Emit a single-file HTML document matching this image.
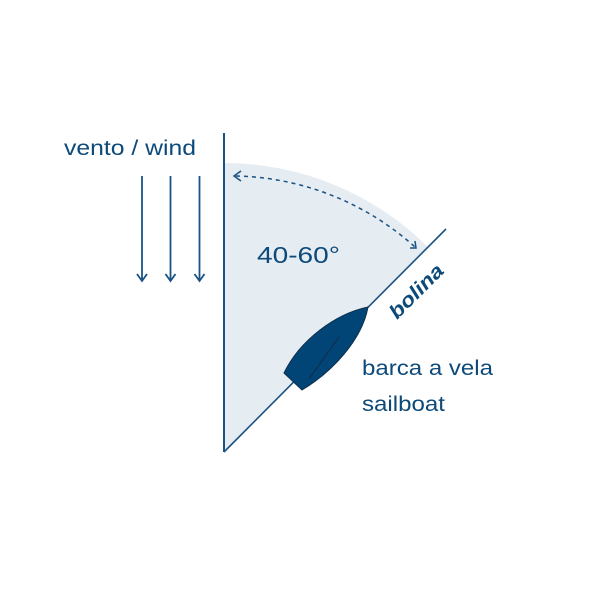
<!DOCTYPE html>
<html><head><style>html,body{margin:0;padding:0;background:#fff;}</style></head>
<body>
<svg width="610" height="610" viewBox="0 0 610 610" xmlns="http://www.w3.org/2000/svg">
<rect width="610" height="610" fill="#fff"/>
<path d="M224 452 L224 163 A289 289 0 0 1 428.4 247.6 Z" fill="#e5ecf2"/>
<line x1="224" y1="133" x2="224" y2="452" stroke="#1a5283" stroke-width="2"/>
<line x1="224" y1="452" x2="446" y2="229" stroke="#1a5283" stroke-width="1.6"/>
<path d="M236 176 A276 276 0 0 1 415 247" fill="none" stroke="#1a5283" stroke-width="1.5" stroke-dasharray="4,4"/>
<path d="M241 171 L234 176 L241 181" fill="none" stroke="#1a5283" stroke-width="1.5"/>
<path d="M410 248 L416 248 L415 241" fill="none" stroke="#1a5283" stroke-width="1.5"/>
<g stroke="#1a5283" stroke-width="1.8" fill="none">
<line x1="142" y1="176" x2="142" y2="281"/><path d="M137 274 L142 281 L147 274"/>
<line x1="170.5" y1="176" x2="170.5" y2="281"/><path d="M165.5 274 L170.5 281 L175.5 274"/>
<line x1="199.5" y1="176" x2="199.5" y2="281"/><path d="M194.5 274 L199.5 281 L204.5 274"/>
</g>
<path d="M368 307 C335 314 300 340 284 373 L302 390 C332 372 362 340 368 307 Z" fill="#004576" stroke="#0f2f4f" stroke-width="1"/>
<line x1="339" y1="337" x2="309" y2="379" stroke="#0f2f4f" stroke-width="1.2"/>
<g font-family="Liberation Sans, sans-serif" fill="#0d4a7a">
<text x="64" y="155" font-size="21" textLength="132" lengthAdjust="spacingAndGlyphs">vento / wind</text>
<text x="257" y="263" font-size="23" textLength="83" lengthAdjust="spacingAndGlyphs">40-60°</text>
<text x="362" y="375" font-size="21" textLength="131" lengthAdjust="spacingAndGlyphs">barca a vela</text>
<text x="362" y="411" font-size="21" textLength="83" lengthAdjust="spacingAndGlyphs">sailboat</text>
<text x="0" y="0" font-size="20" font-weight="bold" font-style="italic" textLength="68" lengthAdjust="spacingAndGlyphs" transform="translate(397 320) rotate(-45)">bolina</text>
</g>
</svg>
</body></html>
